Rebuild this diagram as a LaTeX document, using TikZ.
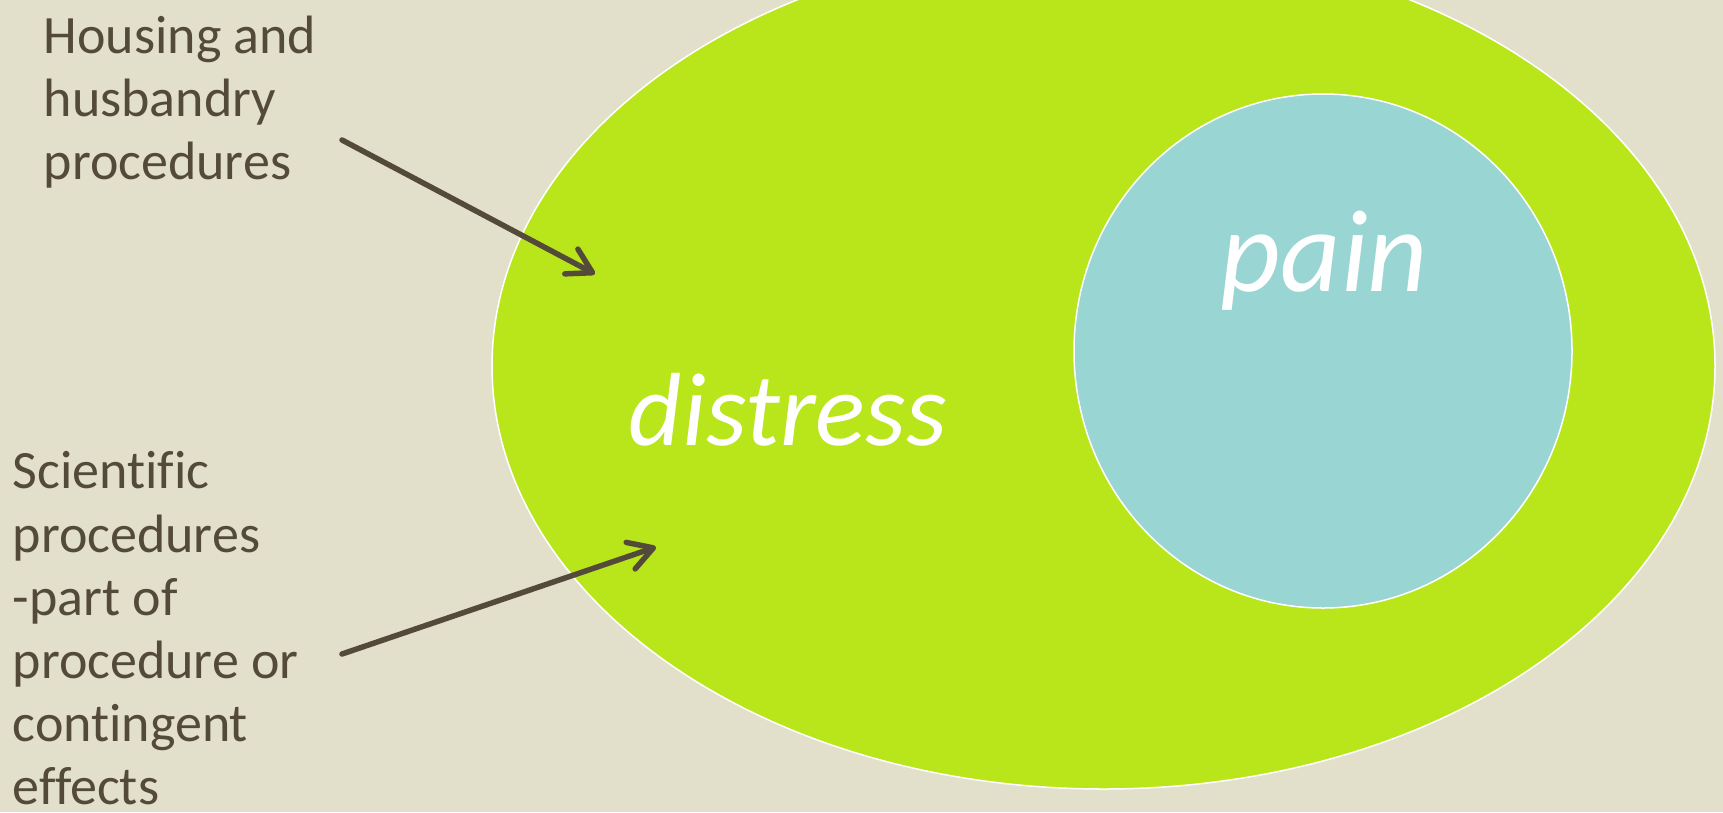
\documentclass[tikz,border=0pt]{standalone}
\usepackage{fontspec}
\setmainfont{Carlito}[Ligatures=NoCommon]
\usepackage{xcolor}
\usepackage{tikz}
\usetikzlibrary{arrows.meta}

\definecolor{paper}{RGB}{226,223,202}
\definecolor{lime}{RGB}{184,230,26}
\definecolor{aqua}{RGB}{152,213,211}
\definecolor{bark}{RGB}{84,74,58}

\begin{document}
\begin{tikzpicture}[x=1pt,y=-1pt,line width=5.5pt,
    lbl/.style={inner sep=0pt,align=left,text=bark,font=\fontsize{54}{63.2}\selectfont},
    big/.style={inner sep=0pt,text=white,font=\fontsize{104}{110}\selectfont\itshape},
    arw/.style={draw=bark,line cap=round,-{Straight Barb[length=24pt,width=28pt,line cap=round,line join=round]}}]
    \useasboundingbox (0,0) rectangle (1723,812);
    \clip (0,0) rectangle (1723,812);
    \fill[paper] (0,0) rectangle (1723,812);
    \draw[draw=white, fill=lime, line width=1.5pt] (1103.5,366) ellipse [x radius=611.5, y radius=423];
    \draw[draw=white, fill=aqua, line width=1.5pt] (1323,351) ellipse [x radius=249, y radius=257];
    \node[big, anchor=base west] (distress) at (626,445) {distress};
    \node[big, anchor=base west, font=\fontsize{117}{120}\selectfont\itshape] (pain) at (1218,291) {pain};
    \node[lbl, anchor=north west] (housing) at (41,13) {Housing and\\husbandry\\procedures};
    \node[lbl, anchor=north west] (science) at (10,449) {Scientific\\procedures\\-part of\\procedure or\\contingent\\effects};
    \coordinate (h0) at (342,140);
    \coordinate (h1) at (595,274);
    \coordinate (s0) at (342,654);
    \coordinate (s1) at (656,547);
    \draw[arw] (h0) -- (h1);
    \draw[arw] (s0) -- (s1);
  \end{tikzpicture}
\end{document}
